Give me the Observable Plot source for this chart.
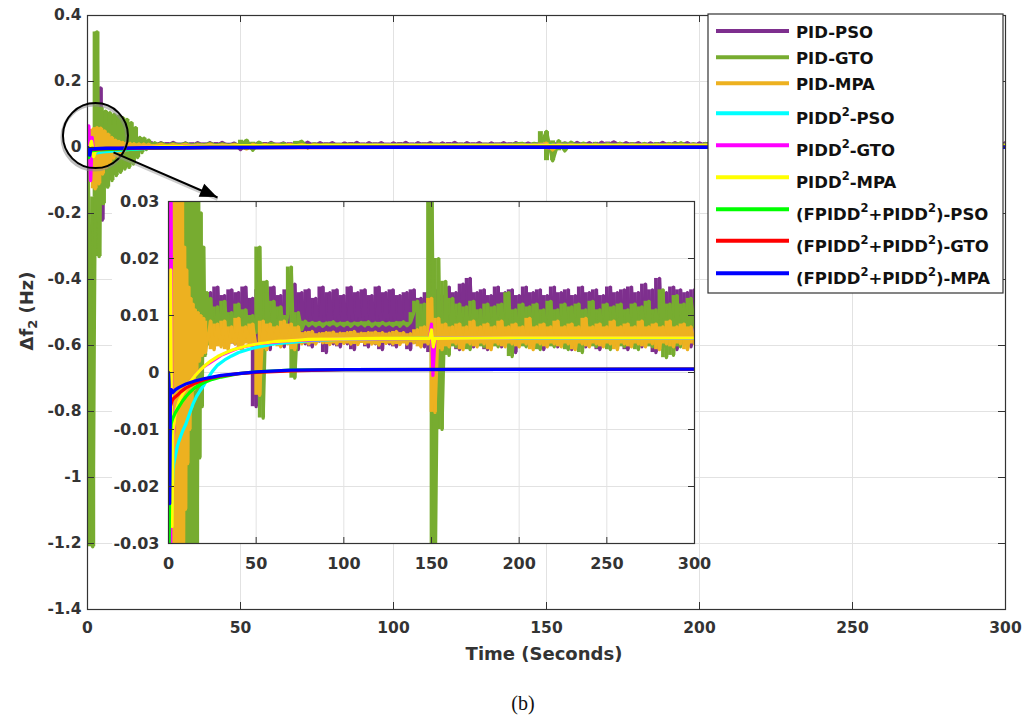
<!DOCTYPE html>
<html>
<head>
<meta charset="utf-8">
<script src="https://cdn.jsdelivr.net/npm/d3@7"></script>
<script src="https://cdn.jsdelivr.net/npm/@observablehq/plot@0.6"></script>
<style>
html, body { margin: 0; padding: 0; background: #fff; }
#wrap { position: relative; width: 1035px; height: 721px; overflow: hidden; background: #fff; }
#main { position: absolute; left: 0; top: 0; }
#inset { position: absolute; left: 108px; top: 191px; }
#caption { position: absolute; left: 473px; width: 100px; top: 692px; text-align: center;
  font-family: 'Liberation Serif', 'Times New Roman', serif; font-size: 20px; line-height: 22px; color: #111; }
</style>
</head>
<body>
<div id="wrap">
  <div id="main"></div>
  <div id="inset"></div>
  <div id="caption">(b)</div>
</div>
<script>
// ---------------- DATA (Δf2 values in mHz, time in seconds) ----------------
const seriesNames = ["PID-PSO", "PID-GTO", "PID-MPA", "PIDD^2-PSO", "PIDD^2-GTO", "PIDD^2-MPA",
  "(FPIDD^2+PIDD^2)-PSO", "(FPIDD^2+PIDD^2)-GTO", "(FPIDD^2+PIDD^2)-MPA"];

// steady-state readings are sampled every 2 s starting at 24 s
const steadyStart = 24, steadyStep = 2;

// PID-PSO
const pidPsoT = [0,0.6,1.4,2.2,3.0,3.6,4.2,4.8,5.4,6.0,6.7,7.4,8.1,8.8,9.5,10.2,11,12,13,14,15,16,17,18,19,20,21,22];
const pidPsoV = [0,5,-25,30,-60,50,180,-220,60,-45,35,-30,28,-22,24,-15,20,-8,18,-2,16,2,15,3,14.5,4,14,5];
const pidPsoSteady = [
  14,5,15,5.5,13.5,4.5,14.5,5,14,4,
  15,5.5,13,-6,14.5,5,14,4,15,5.5,
  13.5,4.5,14.5,5,15.5,4,14,5,14.5,4.5,
  13,5.5,15,3.5,14,5,14.5,4.5,13.5,5,
  15,4,14,5.5,14.5,4.5,13.5,5,15,4,
  14,5,14.5,4.5,13.5,5.5,14,4,14.5,5,
  13,4.5,14,3.5,14.5,5,13.5,4.5,15,5,
  14,4,15.5,5,16.5,4.5,14,5.5,14.5,4,
  13.5,5,15,4.5,14,5,14.5,3.5,13.5,5.5,
  15,4.5,14,5,14.5,4,13.5,5,15,4.5,
  14,5.5,14.5,4,13.5,5,15,4.5,14,5,
  14.5,4,13.5,5.5,15,4.5,14,5,14.5,4,
  15,5,14,4.5,15.5,5,14.5,3.5,16.5,4.5,
  14,5,15,4,14.5,5,14,4.5,14.5];

// PID-GTO
const pidGtoT = [0,0.6,1.7,2.5,3.1,3.8,4.5,5.2,5.9,6.6,7.3,8.0,8.7,9.4,10.1,10.8,11.5,12.2,12.9,13.6,14.3,15.0,15.7,16.4,17.1,17.8,18.5,19.2,20,21,22,23];
const pidGtoV = [0,-250,-1210,-150,350,-330,120,-170,110,-120,105,-100,100,-85,95,-75,90,-65,85,-60,75,-50,60,-30,30,-15,28,-6,22,3,14,5];
const pidGtoSteady = [
  13,5.5,11.5,6.5,12.5,6,10.5,7,12,6,
  11,6.5,10,7,22,-8,16,5,12.5,6,
  11.5,6.5,10,18.5,-1,10.5,7.5,9,8.2,8.8,
  8.2,8.8,8.1,8.7,8.3,8.9,8.2,8.7,8.2,8.8,
  8.1,8.7,8.3,8.8,8.2,8.9,8.1,8.7,8.2,8.8,
  8.3,8.7,8.2,8.8,8.1,8.9,8.2,8.8,10.5,12.5,
  6,12,7,48,-40,20,-10,16,3,13,
  4.5,12,5,11.5,4,12.5,5.5,11,4.5,12,
  5,11.5,4.5,12,5.5,14,2.8,11,5,12,
  4.5,11.5,5.5,12,4,11,5,12.5,4.5,11,
  5.5,12,4,11.5,5,12,3.5,11,5,12.5,
  4.5,11,5.5,12,4,11.5,5,12,4.5,11,
  5.5,12,4,11.5,5,12.5,4.5,11,5,14.5,
  2.6,12,3,13.5,4.5,12,5,13,8];

// PID-MPA
const pidMpaT = [0,0.5,1.2,1.9,2.5,3.1,3.7,4.3,4.9,5.5,6.1,6.7,7.3,7.9,8.5,9.1,9.7,10.3,10.9,11.5,12.1,12.7,13.3,13.9,14.5,15.2,16,16.8,17.6,18.4,19.2,20,21];
const pidMpaV = [0,5,-30,55,-125,60,-110,58,-80,50,-60,40,-45,30,-32,22,-24,18,-16,15,-10,13,-6,12,-3,11,0,10.5,2,10,3,9.5,3.5];
const pidMpaSteady = [
  9,4,8.5,4.5,9,4,8,5,9.5,4,
  8,5,8.5,4.5,-4,9,4,8.5,5,8,
  4.5,9,5,8.5,4,8,5,7,5,7.2,
  5,6.8,5.2,7,4.9,7.1,5,6.9,5.1,7,
  5,7.2,4.9,6.9,5.1,7,5,7.1,4.8,7,
  5.1,6.9,5,7.2,4.9,7,5,6.8,5.2,7.5,
  4.5,8,5,13,-7,9.5,4,8.5,4.5,8,
  5,8.5,4,8,5,9,4.5,8,5,8.5,
  4,8,5,9,4.5,8,5,8.5,4.5,8,
  5,9.5,4,8,5,8.5,4.5,8,5,9,
  4.5,8,5,8.5,4,8,5,9.5,4.5,8,
  5,8.5,4.5,8,5,9,4,8,5,8.5,
  4.5,8,5,9,4.5,8,5,8.5,4,8,
  5,9,4.5,8,5,8.5,4,8,5];

// PIDD2-PSO
const pidd2PsoT = [0,0.6,1.2,1.8,2.5,3,4,5,6,8,10,12,14,16,18,20,22,25,28,32,36,40,45,50,60,70,80,100,120,150,300];
const pidd2PsoV = [0,-5,10,-25,-17,-16,-14.5,-13,-12,-10.3,-9,-7.2,-5.5,-4.2,-3.2,-2.3,-1.2,0.2,1.3,2.2,2.9,3.5,4,4.4,5,5.3,5.6,5.85,5.95,6,6.05];

// PIDD2-GTO
const pidd2GtoT = [0,0.4,1.0,1.5,2.0,2.6,3.2,4,5,6,8,10,12,15,18,20,25,30,40,50,70,100,149,150,150.8,152,200,300];
const pidd2GtoV = [0,65,-100,30,-20,-12,-9,-7,-6,-5,-3.8,-2.8,-1.8,-0.6,0.4,1,2,3,4.3,5,5.6,5.9,6,8.5,-0.5,6,6.1,6.1];

// PIDD2-MPA
const pidd2MpaT = [0,0.7,1.3,2.0,2.6,3.2,4,5,6,8,10,12,15,18,20,24,28,32,36,40,45,50,60,70,80,100,120,149,150,151,152,200,300];
const pidd2MpaV = [0,-3,18,-27,-10,-9,-7,-6,-5,-3.8,-2.8,-1.8,-0.6,0.4,1,2,2.8,3.4,3.9,4.3,4.7,5,5.4,5.6,5.8,5.9,6,6,7.5,4.5,6,6.1,6.1];

// (FPIDD2+PIDD2)-PSO
const fpPsoT = [0,0.4,0.9,1.5,2.5,4,6,8,10,12,15,20,25,30,40,50,70,100,300];
const fpPsoV = [0,-30,-12,-9,-8,-7,-6,-5,-4.2,-3.5,-2.7,-1.8,-1.2,-0.8,-0.2,0.1,0.4,0.5,0.6];

// (FPIDD2+PIDD2)-GTO
const fpGtoT = [0,0.4,1,2,3,5,7,10,15,20,25,30,40,50,70,100,300];
const fpGtoV = [0,-10,-6,-5,-4.5,-4,-3.4,-2.7,-1.9,-1.3,-0.9,-0.6,-0.2,0,0.3,0.5,0.6];

// (FPIDD2+PIDD2)-MPA
const fpMpaT = [0,0.3,0.7,1.1,1.6,2.5,4,6,10,15,20,25,30,40,50,70,100,300];
const fpMpaV = [0,-2,-23,-4,-3,-3.5,-3,-2.6,-2,-1.5,-1.1,-0.8,-0.5,-0.2,0.1,0.4,0.5,0.6];

// ticks
const xTicks = [0, 50, 100, 150, 200, 250, 300];
const xTickLabels = ["0", "50", "100", "150", "200", "250", "300"];
const yTicks = [-1.4, -1.2, -1, -0.8, -0.6, -0.4, -0.2, 0, 0.2, 0.4];
const yTickLabels = ["-1.4", "-1.2", "-1", "-0.8", "-0.6", "-0.4", "-0.2", "0", "0.2", "0.4"];
const insetYTicks = [-0.03, -0.02, -0.01, 0, 0.01, 0.02, 0.03];
const insetYTickLabels = ["-0.03", "-0.02", "-0.01", "0", "0.01", "0.02", "0.03"];

// ---------------- STYLE / LAYOUT ----------------
const seriesColors = ["#7E2F8E", "#77AC30", "#EDB120", "#00FFFF", "#FF00FF", "#FFFF00", "#00FF00", "#FF0000", "#0000FF"];
const FONT = "'DejaVu Sans', 'Liberation Sans', sans-serif";
const AX = "#333333";
const GRID = "#e2e2e2";
const M = {w: 1035, h: 670, ml: 87, mr: 30, mt: 15, mb: 61};
const PW = M.w - M.ml - M.mr, PH = M.h - M.mt - M.mb;
const I = {w: 596, h: 387, ml: 60, mr: 10, mt: 10, mb: 35};
const IPW = I.w - I.ml - I.mr, IPH = I.h - I.mt - I.mb;
const zoomCircle = {t: 2.6, f: 0.036};
const zoomArrow = {t1: 8.5, f1: -0.015, t2: 42.5, f2: -0.1515};

// ---------------- BUILD SERIES ----------------
function build(T, V, steady) {
  const pts = T.map((t, i) => ({t, f: V[i] / 1000}));
  if (steady) steady.forEach((v, i) => pts.push({t: steadyStart + steadyStep * i, f: v / 1000}));
  return pts;
}
const series = [
  build(pidPsoT, pidPsoV, pidPsoSteady),
  build(pidGtoT, pidGtoV, pidGtoSteady),
  build(pidMpaT, pidMpaV, pidMpaSteady),
  build(pidd2PsoT, pidd2PsoV),
  build(pidd2GtoT, pidd2GtoV),
  build(pidd2MpaT, pidd2MpaV),
  build(fpPsoT, fpPsoV),
  build(fpGtoT, fpGtoV),
  build(fpMpaT, fpMpaV)
];
const noisy = [true, true, true, false, false, false, false, false, false];
// consecutive-sample spans (fill the dense noise band between successive readings)
const spans = (pts) => pts.slice(0, -1).map((p, i) => ({t: p.t, a: p.f, b: pts[i + 1].f}));

const seriesMarks = (lineW, fillW) => series.flatMap((pts, k) => {
  const marks = [];
  if (noisy[k]) marks.push(Plot.ruleX(spans(pts), {x: "t", y1: "a", y2: "b", stroke: seriesColors[k], strokeWidth: fillW, clip: true}));
  marks.push(Plot.line(pts, {x: "t", y: "f", stroke: seriesColors[k], strokeWidth: lineW,
    strokeLinejoin: "round", strokeLinecap: "round", clip: true}));
  return marks;
});
const fmt = (ticks, labels) => (d) => labels[ticks.findIndex(v => Math.abs(v - d) < 1e-9)];

// ---------------- MAIN PLOT ----------------
const main = Plot.plot({
  width: M.w, height: M.h,
  marginLeft: M.ml, marginRight: M.mr, marginTop: M.mt, marginBottom: M.mb,
  x: {domain: [0, 300]},
  y: {domain: [-1.4, 0.4]},
  style: {fontFamily: FONT, fontWeight: "bold", fontSize: "15.5px", color: AX, background: "white"},
  marks: [
    Plot.gridX(xTicks, {stroke: GRID, strokeOpacity: 1}),
    Plot.gridY(yTicks, {stroke: GRID, strokeOpacity: 1}),
    ...seriesMarks(3.5, 5),
    Plot.frame({stroke: AX, strokeWidth: 1.2}),
    Plot.ruleX(xTicks, {stroke: AX, insetTop: PH - 7}),
    Plot.ruleX(xTicks, {stroke: AX, insetBottom: PH - 7}),
    Plot.ruleY(yTicks, {stroke: AX, insetRight: PW - 7}),
    Plot.ruleY(yTicks, {stroke: AX, insetLeft: PW - 7}),
    Plot.axisX(xTicks, {tickSize: 0, tickPadding: 12, tickFormat: fmt(xTicks, xTickLabels), label: null, fontSize: 15.5, fontWeight: "bold", fill: AX}),
    Plot.axisY(yTicks, {tickSize: 0, tickPadding: 6, tickFormat: fmt(yTicks, yTickLabels), label: null, fontSize: 15.5, fontWeight: "bold", fill: AX}),
    Plot.dot([zoomCircle], {x: "t", y: "f", r: 32.5, stroke: "#888", strokeOpacity: 0.55, strokeWidth: 3, fill: "none", dx: -1, dy: 2}),
    Plot.dot([zoomCircle], {x: "t", y: "f", r: 32.5, stroke: "#000", strokeWidth: 2, fill: "none"}),
    Plot.link([zoomArrow], {x1: "t1", y1: "f1", x2: "t2", y2: "f2", stroke: "#999", strokeOpacity: 0.5, strokeWidth: 3, dy: 2}),
    Plot.link([zoomArrow], {x1: "t1", y1: "f1", x2: "t2", y2: "f2", stroke: "#000", strokeWidth: 2})
  ]
});
document.getElementById("main").appendChild(main);

const svg = d3.select(main);
const sx = main.scale("x"), sy = main.scale("y");

// arrowhead (filled)
{
  const x1 = sx.apply(zoomArrow.t1), y1 = sy.apply(zoomArrow.f1);
  const x2 = sx.apply(zoomArrow.t2), y2 = sy.apply(zoomArrow.f2);
  const L = Math.hypot(x2 - x1, y2 - y1), ux = (x2 - x1) / L, uy = (y2 - y1) / L;
  const bx = x2 - 17 * ux, by = y2 - 17 * uy, hw = 7;
  svg.append("path")
    .attr("d", `M${x2},${y2}L${bx - hw * uy},${by + hw * ux}L${bx + hw * uy},${by - hw * ux}Z`)
    .attr("fill", "#000");
}

// white backing behind the inset's left tick labels
svg.append("rect").attr("x", 112).attr("y", 193).attr("width", 56).attr("height", 352).attr("fill", "white");

// x axis title
svg.append("text").attr("x", 544).attr("y", 660).attr("text-anchor", "middle")
  .attr("font-family", FONT).attr("font-weight", "bold").attr("font-size", 18).attr("fill", AX)
  .text("Time (Seconds)");

// y axis title
{
  const t = svg.append("text").attr("transform", "translate(33,311) rotate(-90)").attr("text-anchor", "middle")
    .attr("font-family", FONT).attr("font-weight", "bold").attr("font-size", 18).attr("fill", AX);
  t.append("tspan").text("Δf");
  t.append("tspan").attr("dy", 4).attr("font-size", 13).text("2");
  t.append("tspan").attr("dy", -4).text(" (Hz)");
}

// legend
{
  const rowsY = [31, 57.3, 83.3, 113.3, 145.3, 177.3, 209.3, 240.7, 273.3];
  const g = svg.append("g");
  g.append("rect").attr("x", 708).attr("y", 14).attr("width", 295).attr("height", 279)
    .attr("fill", "white").attr("stroke", AX).attr("stroke-width", 1.2);
  seriesNames.forEach((name, i) => {
    const y = rowsY[i];
    g.append("line").attr("x1", 716).attr("x2", 789).attr("y1", y).attr("y2", y)
      .attr("stroke", seriesColors[i]).attr("stroke-width", 4);
    const txt = g.append("text").attr("x", 796).attr("y", y + (name.includes("^2") ? 11 : 6.5))
      .attr("text-anchor", "start")
      .attr("font-family", FONT).attr("font-weight", "bold").attr("font-size", 16.5).attr("fill", "#111");
    name.split("^2").forEach((p, j) => {
      if (j > 0) txt.append("tspan").attr("dy", -8).attr("font-size", 11.5).text("2");
      txt.append("tspan").attr("dy", j > 0 ? 8 : 0).text(p);
    });
  });
}

// ---------------- INSET ----------------
const inset = Plot.plot({
  width: I.w, height: I.h,
  marginLeft: I.ml, marginRight: I.mr, marginTop: I.mt, marginBottom: I.mb,
  x: {domain: [0, 300]},
  y: {domain: [-0.03, 0.03]},
  style: {fontFamily: FONT, fontWeight: "bold", fontSize: "16px", color: AX, background: "transparent", overflow: "visible"},
  marks: [
    Plot.frame({fill: "white", stroke: "none"}),
    Plot.gridX(xTicks, {stroke: GRID, strokeOpacity: 1}),
    Plot.gridY(insetYTicks, {stroke: GRID, strokeOpacity: 1}),
    ...seriesMarks(3.2, 3.7),
    Plot.frame({stroke: AX, strokeWidth: 1.2}),
    Plot.ruleX(xTicks, {stroke: AX, insetTop: IPH - 6}),
    Plot.ruleX(xTicks, {stroke: AX, insetBottom: IPH - 6}),
    Plot.ruleY(insetYTicks, {stroke: AX, insetRight: IPW - 6}),
    Plot.ruleY(insetYTicks, {stroke: AX, insetLeft: IPW - 6}),
    Plot.axisX(xTicks, {tickSize: 0, tickPadding: 14, tickFormat: fmt(xTicks, xTickLabels), label: null, fontSize: 16, fontWeight: "bold", fill: AX}),
    Plot.axisY(insetYTicks, {tickSize: 0, tickPadding: 9, tickFormat: fmt(insetYTicks, insetYTickLabels), label: null, fontSize: 16, fontWeight: "bold", fill: AX})
  ]
});
document.getElementById("inset").appendChild(inset);
</script>
</body>
</html>
